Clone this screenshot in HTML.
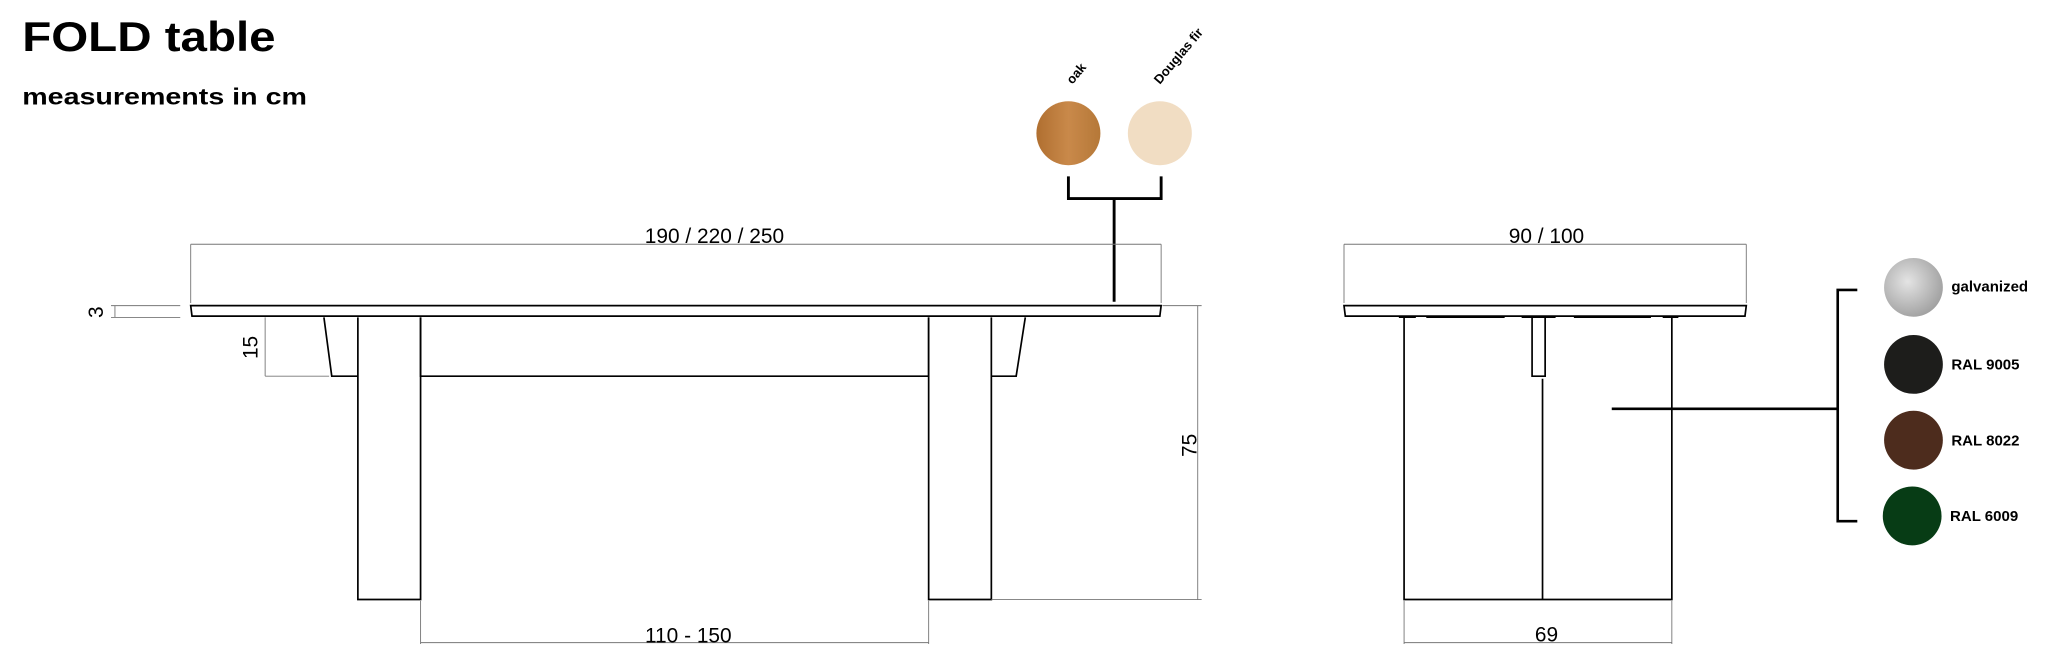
<!DOCTYPE html>
<html><head><meta charset="utf-8"><style>
html,body{margin:0;padding:0;background:#fff;width:2048px;height:654px;overflow:hidden}
svg{display:block}
text{font-family:"Liberation Sans",sans-serif}
</style></head><body>
<svg width="2048" height="654" viewBox="0 0 1568 500.7" preserveAspectRatio="none" xmlns="http://www.w3.org/2000/svg">
<defs>
<radialGradient id="g1" cx="40%" cy="40%" r="70%"><stop offset="0" stop-color="#e4e4e4"/><stop offset="1" stop-color="#9a9a9a"/></radialGradient>
<linearGradient id="oak" x1="0" x2="1"><stop offset="0" stop-color="#b06f30"/><stop offset="0.5" stop-color="#c9894a"/><stop offset="1" stop-color="#b57838"/></linearGradient>
</defs>
<text x="17" y="39" font-size="32" font-weight="bold" textLength="194" lengthAdjust="spacingAndGlyphs">FOLD table</text>
<text x="17" y="80" font-size="18" font-weight="bold" textLength="218" lengthAdjust="spacingAndGlyphs">measurements in cm</text>

<circle cx="818" cy="102" r="24.5" fill="url(#oak)"/>
<circle cx="888" cy="102" r="24.5" fill="#f1ddc3"/>
<text transform="translate(821,65) rotate(-50)" font-size="10" font-weight="bold">oak</text>
<text transform="translate(888,65) rotate(-50)" font-size="10" font-weight="bold">Douglas fir</text>
<path d="M818 135 V152 H889 V135 M853 152 V231" fill="none" stroke="#000" stroke-width="2.2"/>

<g fill="none" stroke="#000" stroke-width="1.3">
<path d="M146 234 H889 L888 242 H147 Z"/>
<path d="M248 243 L254 288 H274"/>
<path d="M785 243 L778 288 H759"/>
<path d="M274 243 V459 H322 V243"/>
<path d="M711 243 V459 H759 V243"/>
<path d="M322 243 V288 H711 V243"/>
<path d="M1029 234 H1337 L1336 242 H1030 Z"/>
<path d="M1075 243 V459 H1280 V243 M1181 290 V459"/>
<path d="M1173 243 V288 H1183 V243"/>
</g>
<g fill="none" stroke="#000" stroke-width="0.9">
<path d="M280 242 H310 M705 242 H735 M1071 243 H1084 M1092 243 H1152 M1165 243 H1191 M1205 243 H1264 M1273 243 H1285"/>
</g>
<g fill="none" stroke="#777" stroke-width="0.7">
<path d="M146 187 H889 M146 187 V232 M889 187 V232"/>
<path d="M1029 187 H1337 M1029 187 V232 M1337 187 V232"/>
<path d="M88 234 V243 M85 234 H138 M85 243 H138"/>
<path d="M203 243 V288 M203 288 H252"/>
<path d="M917 234 V459 M890 234 H920 M759 459 H920"/>
<path d="M322 492 H711 M322 460 V493 M711 460 V493"/>
<path d="M1075 492 H1280 M1075 460 V493 M1280 460 V493"/>
</g>
<g font-size="16" text-anchor="middle">
<text x="547" y="186">190 / 220 / 250</text>
<text x="1184" y="186">90 / 100</text>
<text x="527" y="492">110 - 150</text>
<text x="1184" y="491">69</text>
<text transform="translate(79,239) rotate(-90)">3</text>
<text transform="translate(197,266) rotate(-90)">15</text>
<text transform="translate(916,341) rotate(-90)">75</text>
</g>
<path d="M1234 313 H1407 M1422 222 H1407 V399 H1422" fill="none" stroke="#000" stroke-width="2"/>
<circle cx="1465" cy="220" r="22.5" fill="url(#g1)"/>
<circle cx="1465" cy="279" r="22.5" fill="#1d1d1b"/>
<circle cx="1465" cy="337" r="22.5" fill="#4d2c1d"/>
<circle cx="1464" cy="395" r="22.5" fill="#073c15"/>
<g font-size="11.5" font-weight="bold">
<text x="1494" y="223">galvanized</text>
<text x="1494" y="283">RAL 9005</text>
<text x="1494" y="341">RAL 8022</text>
<text x="1493" y="399">RAL 6009</text>
</g>
</svg>
</body></html>
